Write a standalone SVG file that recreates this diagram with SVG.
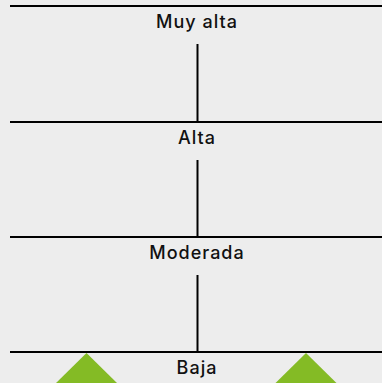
<svg xmlns="http://www.w3.org/2000/svg" width="382" height="383" viewBox="0 0 382 383">
<style>
.lvl{stroke:#000;stroke-width:2;fill:none}
.lbl{font-family:Inter,"Noto Sans","Liberation Sans",sans-serif;font-size:18px;font-weight:500;letter-spacing:1px;fill:#111;text-anchor:middle}
.tri{fill:#84bb25}
</style>
<rect width="382" height="383" fill="#ededed"/>
<g id="connectors">
<line class="lvl" x1="197.5" y1="44" x2="197.5" y2="122"/>
<line class="lvl" x1="197.5" y1="160" x2="197.5" y2="237"/>
<line class="lvl" x1="197.5" y1="275" x2="197.5" y2="352"/>
</g>
<g id="muy-alta"><line class="lvl" x1="10" y1="6" x2="382" y2="6"/><text class="lbl" x="197" y="28">Muy alta</text></g>
<g id="alta"><line class="lvl" x1="10" y1="122" x2="382" y2="122"/><text class="lbl" x="197" y="144">Alta</text></g>
<g id="moderada"><line class="lvl" x1="10" y1="237" x2="382" y2="237"/><text class="lbl" x="197" y="259">Moderada</text></g>
<g id="baja"><line class="lvl" x1="10" y1="352" x2="382" y2="352"/><text class="lbl" x="197" y="374">Baja</text></g>
<polygon class="tri" points="86.5,353 55,384 118,384"/>
<polygon class="tri" points="306,353 274.5,384 337.5,384"/>
</svg>
